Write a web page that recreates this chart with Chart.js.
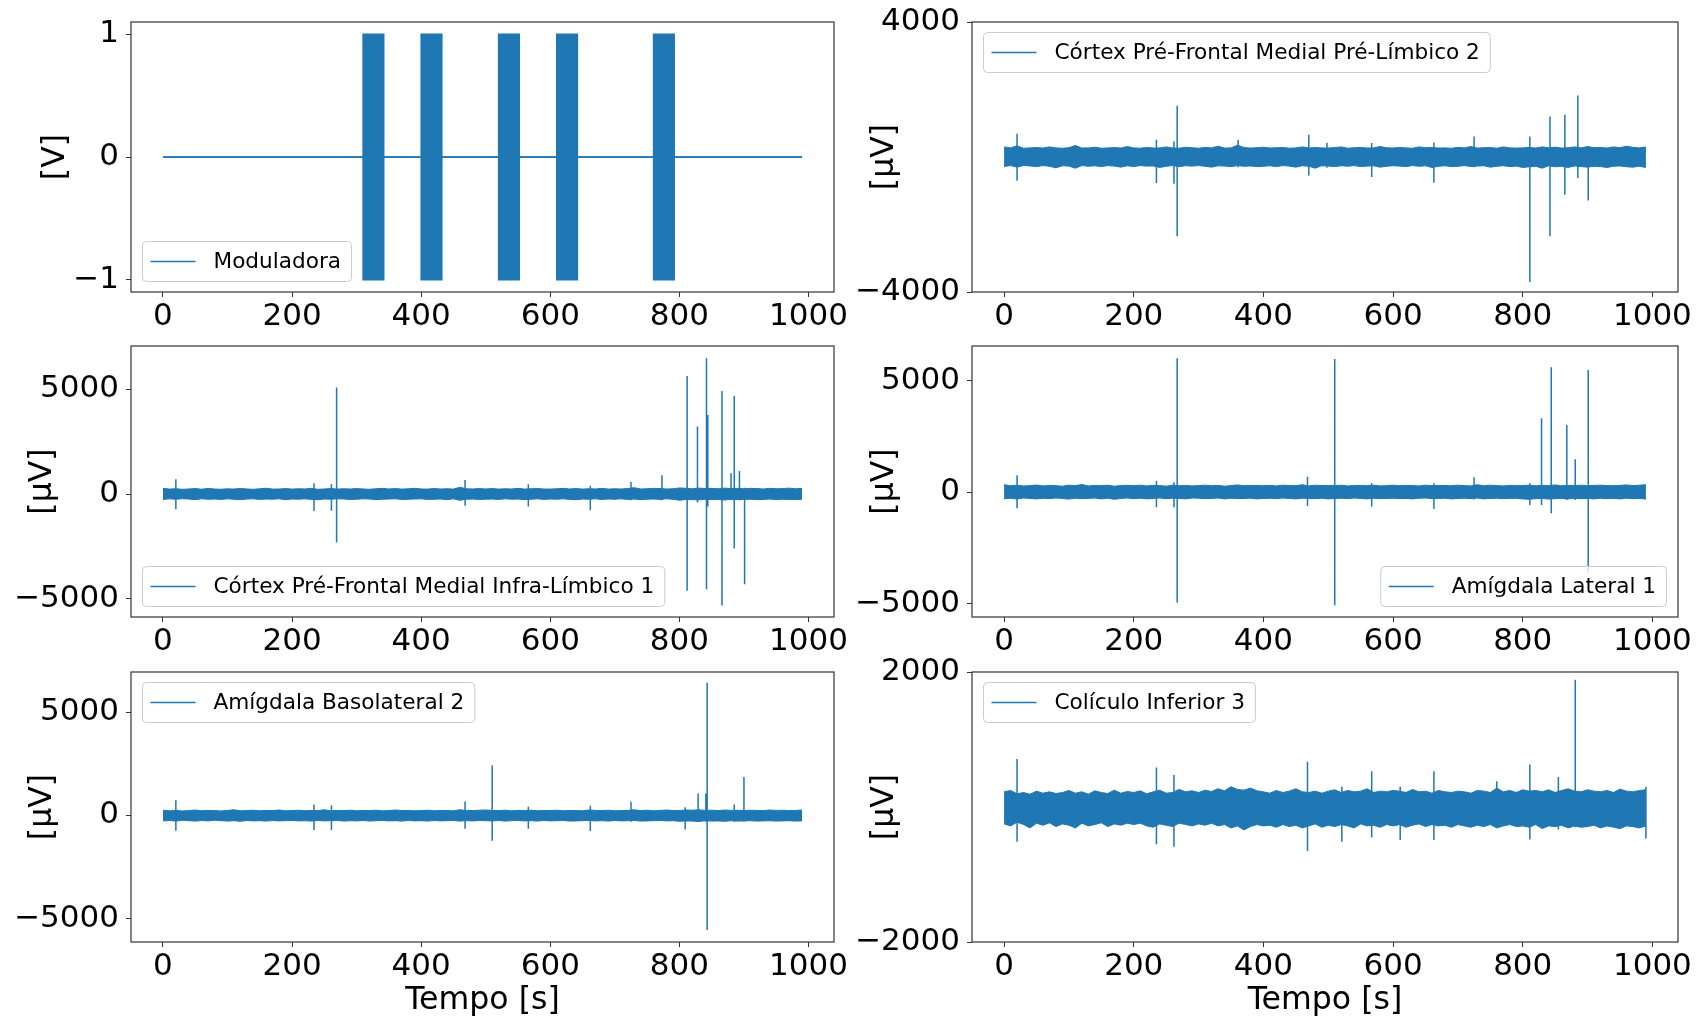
<!DOCTYPE html>
<html>
<head>
<meta charset="utf-8">
<title>Registos LFP</title>
<script src="https://cdn.jsdelivr.net/npm/chart.js@4.4.1/dist/chart.umd.min.js"></script>
<style>
  html, body { margin: 0; padding: 0; background: #ffffff; }
  #fig { position: relative; width: 1697px; height: 1021px; overflow: hidden; }
  #fig canvas { position: absolute; left: 0; top: 0; }
</style>
</head>
<body>
<div id="fig"></div>
<script>
// ---- time base (s) ----
const envelopeTimes = [
  0, 10, 20, 30, 40, 50, 60, 70, 80, 90,
  100, 110, 120, 130, 140, 150, 160, 170, 180, 190,
  200, 210, 220, 230, 240, 250, 260, 270, 280, 290,
  300, 310, 320, 330, 340, 350, 360, 370, 380, 390,
  400, 410, 420, 430, 440, 450, 460, 470, 480, 490,
  500, 510, 520, 530, 540, 550, 560, 570, 580, 590,
  600, 610, 620, 630, 640, 650, 660, 670, 680, 690,
  700, 710, 720, 730, 740, 750, 760, 770, 780, 790,
  800, 810, 820, 830, 840, 850, 860, 870, 880, 890,
  900, 910, 920, 930, 940, 950, 960, 970, 980, 990
];
const recordEnd = 990;
const xTicks = [0, 200, 400, 600, 800, 1000];

// ---- modulating signal (V): stimulation blocks ----
const modOnStart = [310, 400, 520, 610, 760];
const modOnEnd   = [342, 432, 552, 642, 792];
const modHigh = 1;
const modLow = -1;
const modTicks = [-1, 0, 1];

// ---- Córtex Pré-Frontal Medial Pré-Límbico 2 (µV): upper/lower envelope of the trace ----
const pl2Upper = [
  300, 270, 330, 260, 270, 280, 265, 300, 270, 260,
  275, 340, 265, 270, 290, 260, 270, 280, 265, 310,
  270, 260, 285, 265, 270, 300, 270, 260, 290, 275,
  260, 285, 270, 320, 265, 270, 350, 280, 265, 275,
  290, 265, 275, 280, 260, 270, 300, 265, 280, 270,
  265, 280, 300, 260, 275, 285, 265, 270, 310, 275,
  265, 285, 270, 260, 300, 275, 280, 265, 270, 260,
  285, 270, 310, 265, 275, 280, 260, 300, 270, 265,
  270, 285, 265, 300, 275, 290, 265, 275, 300, 270,
  310, 275, 285, 265, 300, 275, 320, 285, 270, 300
];
const pl2Lower = [
  -280, -255, -300, -250, -265, -285, -255, -275, -320, -260,
  -270, -330, -255, -275, -260, -285, -255, -270, -300, -260,
  -285, -255, -270, -265, -310, -275, -255, -285, -260, -270,
  -255, -275, -300, -260, -270, -285, -255, -275, -265, -285,
  -275, -260, -285, -255, -270, -300, -260, -275, -330, -260,
  -270, -285, -260, -275, -255, -285, -270, -260, -300, -275,
  -260, -270, -285, -255, -275, -260, -310, -275, -260, -285,
  -275, -255, -285, -270, -260, -300, -275, -260, -285, -270,
  -310, -290, -275, -330, -260, -290, -275, -310, -265, -285,
  -300, -275, -285, -310, -275, -265, -290, -300, -275, -310
];
// [time, peak, trough]
const pl2Spikes = [
  [20, 690, -700], [235, 510, -770], [262, 460, -790], [267, 1520, -2350],
  [361, 510, -300], [470, 660, -545], [498, 420, -320], [567, 415, -590],
  [663, 430, -760], [725, 610, -300], [811, 610, -3700], [842, 1200, -2350],
  [865, 1250, -1115], [885, 1820, -620], [901, 300, -1290]
];
const pl2Ticks = [-4000, 4000];

// ---- Córtex Pré-Frontal Medial Infra-Límbico 1 (µV) ----
const il1Upper = [
  270, 235, 250, 225, 240, 260, 230, 265, 240, 225,
  250, 235, 265, 240, 225, 250, 275, 235, 240, 260,
  235, 250, 240, 270, 225, 240, 260, 235, 250, 240,
  260, 240, 225, 250, 270, 240, 260, 235, 250, 270,
  240, 235, 260, 240, 250, 235, 320, 250, 240, 260,
  240, 260, 235, 250, 240, 270, 235, 250, 260, 240,
  235, 250, 270, 240, 260, 235, 250, 240, 270, 235,
  250, 240, 260, 300, 240, 250, 270, 260, 240, 250,
  290, 270, 250, 280, 260, 270, 250, 280, 260, 270,
  250, 270, 260, 240, 270, 250, 260, 280, 250, 270
];
const il1Lower = [
  -260, -230, -250, -225, -240, -270, -230, -250, -240, -260,
  -230, -250, -275, -240, -230, -260, -240, -250, -230, -270,
  -240, -250, -230, -260, -275, -240, -250, -230, -240, -260,
  -250, -230, -240, -270, -250, -240, -230, -260, -250, -240,
  -230, -260, -250, -240, -270, -230, -300, -250, -240, -260,
  -250, -240, -260, -230, -250, -240, -270, -250, -230, -260,
  -240, -250, -230, -260, -275, -240, -250, -230, -260, -240,
  -250, -230, -260, -240, -270, -250, -240, -260, -230, -250,
  -300, -260, -270, -280, -250, -270, -260, -290, -250, -270,
  -260, -250, -270, -260, -240, -270, -250, -260, -270, -250
];
const il1Spikes = [
  [20, 700, -730], [234, 510, -810], [261, 480, -800], [269, 5090, -2320],
  [468, 670, -560], [566, 460, -600], [662, 400, -780], [725, 570, -300],
  [773, 900, -300], [812, 5640, -4620], [828, 3220, -400], [842, 6480, -4550],
  [844, 3770, -600], [866, 4920, -5320], [880, 990, -300], [885, 4680, -2600],
  [893, 1100, -300], [901, 300, -4310]
];
const il1Ticks = [-5000, 0, 5000];

// ---- Amígdala Lateral 1 (µV) ----
const al1Upper = [
  340, 295, 320, 280, 300, 325, 285, 310, 295, 275,
  320, 300, 350, 285, 310, 295, 320, 275, 300, 315,
  295, 320, 285, 310, 300, 275, 320, 295, 310, 285,
  300, 320, 295, 310, 275, 300, 330, 295, 310, 300,
  295, 310, 285, 320, 300, 295, 340, 285, 320, 300,
  310, 295, 320, 285, 300, 310, 295, 320, 285, 300,
  320, 295, 310, 300, 285, 320, 295, 310, 300, 295,
  320, 300, 285, 340, 295, 320, 300, 285, 310, 295,
  300, 320, 295, 310, 300, 330, 295, 310, 300, 320,
  295, 310, 320, 300, 295, 310, 330, 300, 320, 340
];
const al1Lower = [
  -290, -265, -305, -255, -275, -295, -265, -285, -255, -275,
  -305, -265, -285, -275, -255, -295, -265, -315, -275, -255,
  -285, -265, -295, -275, -255, -285, -265, -275, -295, -255,
  -265, -285, -275, -255, -295, -265, -285, -275, -265, -295,
  -275, -265, -285, -255, -275, -295, -265, -275, -285, -265,
  -295, -275, -265, -285, -255, -275, -295, -265, -285, -275,
  -265, -285, -275, -295, -265, -255, -285, -275, -265, -295,
  -275, -265, -285, -255, -295, -275, -265, -285, -275, -265,
  -295, -315, -285, -275, -305, -285, -275, -295, -265, -285,
  -275, -295, -265, -285, -275, -295, -265, -285, -275, -305
];
const al1Spikes = [
  [20, 760, -715], [235, 520, -670], [262, 450, -670], [267, 6000, -4940],
  [468, 700, -610], [510, 5970, -5060], [567, 400, -640], [663, 400, -750],
  [725, 670, -320], [811, 400, -570], [829, 3310, -570], [844, 5600, -940],
  [868, 3010, -350], [881, 1480, -350], [901, 5480, -3600]
];
const al1Ticks = [-5000, 0, 5000];

// ---- Amígdala Basolateral 2 (µV) ----
const abl2Upper = [
  255, 225, 245, 215, 235, 265, 225, 245, 235, 215,
  245, 275, 225, 235, 255, 225, 245, 235, 265, 225,
  235, 255, 225, 245, 235, 275, 225, 245, 235, 255,
  225, 245, 235, 255, 225, 235, 265, 235, 245, 225,
  235, 255, 225, 245, 235, 225, 275, 245, 235, 255,
  265, 245, 235, 255, 225, 245, 235, 255, 225, 245,
  235, 255, 225, 245, 235, 225, 265, 245, 235, 255,
  225, 235, 245, 275, 235, 255, 225, 245, 265, 235,
  245, 265, 255, 275, 245, 255, 235, 265, 245, 255,
  235, 255, 245, 235, 265, 245, 255, 235, 245, 265
];
const abl2Lower = [
  -265, -245, -275, -235, -255, -275, -245, -265, -235, -255,
  -275, -255, -285, -245, -265, -255, -275, -245, -265, -255,
  -245, -265, -255, -275, -245, -265, -255, -245, -275, -255,
  -265, -245, -275, -255, -245, -265, -255, -275, -245, -265,
  -255, -275, -245, -265, -255, -245, -275, -255, -265, -245,
  -255, -265, -245, -275, -255, -245, -265, -255, -275, -245,
  -265, -255, -245, -275, -265, -255, -245, -265, -255, -275,
  -245, -265, -255, -245, -275, -265, -255, -245, -265, -255,
  -285, -265, -275, -295, -255, -275, -265, -285, -255, -275,
  -265, -255, -275, -265, -255, -275, -265, -255, -275, -265
];
const abl2Spikes = [
  [20, 740, -740], [234, 530, -700], [261, 500, -710], [468, 680, -650],
  [510, 2420, -1230], [566, 420, -650], [662, 470, -760], [725, 660, -300],
  [809, 400, -680], [829, 1070, -300], [841, 1070, -300], [843, 6430, -5560],
  [885, 530, -300], [900, 1870, -300]
];
const abl2Ticks = [-5000, 0, 5000];

// ---- Colículo Inferior 3 (µV) ----
const ci3Upper = [
  225, 245, 195, 215, 190, 235, 205, 225, 200, 215,
  245, 205, 225, 190, 240, 215, 200, 250, 205, 230,
  215, 240, 195, 225, 250, 205, 215, 260, 225, 240,
  215, 250, 230, 270, 240, 300, 260, 250, 280, 240,
  225, 205, 245, 215, 235, 270, 225, 215, 235, 205,
  235, 255, 215, 245, 225, 235, 270, 215, 235, 225,
  245, 235, 215, 260, 225, 235, 205, 245, 225, 215,
  235, 225, 205, 245, 235, 215, 280, 225, 245, 215,
  255, 235, 245, 225, 255, 215, 245, 270, 235, 225,
  255, 235, 225, 245, 215, 265, 235, 225, 245, 255
];
const ci3Lower = [
  -250, -280, -225, -260, -310, -240, -270, -235, -290, -250,
  -270, -310, -240, -280, -260, -235, -290, -250, -270, -240,
  -260, -240, -280, -300, -250, -270, -290, -240, -260, -280,
  -250, -270, -240, -280, -260, -310, -280, -340, -290, -260,
  -280, -270, -300, -260, -290, -270, -310, -280, -250, -300,
  -270, -290, -260, -280, -310, -250, -280, -270, -300, -260,
  -280, -260, -300, -270, -250, -290, -260, -280, -270, -300,
  -260, -280, -300, -270, -290, -260, -310, -280, -260, -290,
  -280, -300, -260, -320, -280, -290, -270, -310, -280, -300,
  -290, -270, -310, -280, -300, -320, -280, -290, -310, -280
];
const ci3Spikes = [
  [20, 710, -515], [235, 585, -550], [262, 475, -590], [468, 670, -650],
  [521, 300, -515], [567, 530, -450], [611, 300, -490], [663, 530, -490],
  [760, 380, -300], [811, 630, -480], [855, 445, -330], [881, 1885, -300],
  [990, 300, -465]
];
const ci3Ticks = [-2000, 2000];

// ---- drawing ----
const BLUE = '#1f77b4';
const PAGE_W = 1697, PAGE_H = 1021;
const Y_BOX = 120;              // width reserved for y tick labels + title
const TICK_FONT = 31, LABEL_FONT = 31.6, LEGEND_FONT = 21.6;

Chart.defaults.font.family = '"DejaVu Sans", sans-serif';
Chart.defaults.color = '#000000';

const fmt = v => (v < 0 ? '\u2212' + Math.abs(v) : String(v));

function signalDatasets(upper, lower, spikes) {
  const up = envelopeTimes.map((t, i) => ({ x: t, y: upper[i] }));
  const lo = envelopeTimes.map((t, i) => ({ x: t, y: lower[i] }));
  const sp = [];
  spikes.forEach(([t, peak, trough]) => {
    sp.push({ x: t, y: trough }, { x: t, y: peak }, { x: t, y: null });
  });
  const base = { borderColor: BLUE, pointRadius: 0, tension: 0 };
  return [
    { ...base, data: up, fill: '+1', backgroundColor: BLUE, borderWidth: 1 },
    { ...base, data: lo, fill: false, borderWidth: 1 },
    { ...base, data: sp, fill: false, borderWidth: 1.5, spanGaps: false }
  ];
}

function modulatorDatasets() {
  const top = [{ x: 0, y: 0 }], bottom = [{ x: 0, y: 0 }];
  modOnStart.forEach((s, i) => {
    const e = modOnEnd[i];
    top.push({ x: s, y: 0 }, { x: s, y: modHigh }, { x: e, y: modHigh }, { x: e, y: 0 });
    bottom.push({ x: s, y: 0 }, { x: s, y: modLow }, { x: e, y: modLow }, { x: e, y: 0 });
  });
  top.push({ x: recordEnd, y: 0 });
  bottom.push({ x: recordEnd, y: 0 });
  const base = { borderColor: BLUE, backgroundColor: BLUE, pointRadius: 0, borderWidth: 1.5, fill: 'origin' };
  return [{ ...base, data: top }, { ...base, data: bottom }];
}

// axes frame (all four spines)
const framePlugin = {
  id: 'frame',
  afterDatasetsDraw(chart) {
    const { ctx, chartArea: a } = chart;
    ctx.save();
    ctx.strokeStyle = '#333333';
    ctx.lineWidth = 1.2;
    ctx.strokeRect(a.left, a.top, a.right - a.left, a.bottom - a.top);
    ctx.restore();
  }
};

// framed legend box inside the axes
const boxLegend = {
  id: 'boxLegend',
  afterDatasetsDraw(chart, args, opts) {
    const { ctx, chartArea: a } = chart;
    ctx.save();
    ctx.font = `${LEGEND_FONT}px "DejaVu Sans"`;
    const tw = ctx.measureText(opts.label).width;
    const w = 71 + tw + 10.5, h = 40;
    const x = opts.loc.includes('right') ? a.right - 11.5 - w : a.left + 11.5;
    const y = opts.loc.includes('upper') ? a.top + 10.5 : a.bottom - 10.5 - h;
    ctx.beginPath();
    ctx.roundRect(x, y, w, h, 4);
    ctx.fillStyle = 'rgba(255,255,255,0.8)';
    ctx.fill();
    ctx.strokeStyle = '#cccccc';
    ctx.lineWidth = 1;
    ctx.stroke();
    ctx.beginPath();
    ctx.moveTo(x + 8, y + h / 2);
    ctx.lineTo(x + 53, y + h / 2);
    ctx.strokeStyle = BLUE;
    ctx.lineWidth = 1.5;
    ctx.stroke();
    ctx.fillStyle = '#000000';
    ctx.textBaseline = 'middle';
    ctx.textAlign = 'left';
    ctx.fillText(opts.label, x + 71, y + h / 2 + 1);
    ctx.restore();
  }
};

const zeroPad = s => { s.paddingLeft = 0; s.paddingRight = 0; s.paddingTop = 0; s.paddingBottom = 0; };

const panels = [
  { label: 'Moduladora', loc: 'lower left', yTitle: '[V]', datasets: modulatorDatasets(),
    yMin: -1.1, yMax: 1.1, yTicks: modTicks, area: [131, 22, 834, 292], yTitleX: 56, bottomRow: false },
  { label: 'Córtex Pré-Frontal Medial Pré-Límbico 2', loc: 'upper left', yTitle: '[μV]',
    datasets: signalDatasets(pl2Upper, pl2Lower, pl2Spikes),
    yMin: -4000, yMax: 4000, yTicks: pl2Ticks, area: [972, 22, 1678, 292], yTitleX: 885, bottomRow: false },
  { label: 'Córtex Pré-Frontal Medial Infra-Límbico 1', loc: 'lower left', yTitle: '[μV]',
    datasets: signalDatasets(il1Upper, il1Lower, il1Spikes),
    yMin: -5874, yMax: 7068, yTicks: il1Ticks, area: [131, 346, 834, 617], yTitleX: 43, bottomRow: false },
  { label: 'Amígdala Lateral 1', loc: 'lower right', yTitle: '[μV]',
    datasets: signalDatasets(al1Upper, al1Lower, al1Spikes),
    yMin: -5582, yMax: 6549, yTicks: al1Ticks, area: [972, 346, 1678, 617], yTitleX: 885, bottomRow: false },
  { label: 'Amígdala Basolateral 2', loc: 'upper left', yTitle: '[μV]',
    datasets: signalDatasets(abl2Upper, abl2Lower, abl2Spikes),
    yMin: -6138, yMax: 6957, yTicks: abl2Ticks, area: [131, 672, 834, 942], yTitleX: 43, bottomRow: true },
  { label: 'Colículo Inferior 3', loc: 'upper left', yTitle: '[μV]',
    datasets: signalDatasets(ci3Upper, ci3Lower, ci3Spikes),
    yMin: -2000, yMax: 2000, yTicks: ci3Ticks, area: [972, 672, 1678, 942], yTitleX: 885, bottomRow: true }
];

const fig = document.getElementById('fig');
panels.forEach(p => {
  const [L, T, R, B] = p.area;
  const xBox = p.bottomRow ? PAGE_H - B : 60;
  const canvas = document.createElement('canvas');
  canvas.width = PAGE_W;
  canvas.height = PAGE_H;
  fig.appendChild(canvas);
  const lh = LABEL_FONT * 1.2;
  const yTitlePad = p.yTitleX - (L - Y_BOX) - lh / 2;
  new Chart(canvas, {
    type: 'line',
    data: { datasets: p.datasets },
    options: {
      responsive: false,
      animation: false,
      devicePixelRatio: 1,
      events: [],
      layout: { padding: { left: L - Y_BOX, top: T, right: PAGE_W - R, bottom: PAGE_H - B - xBox } },
      plugins: {
        legend: { display: false },
        tooltip: { enabled: false },
        boxLegend: { label: p.label, loc: p.loc }
      },
      scales: {
        x: {
          type: 'linear',
          min: -49.5,
          max: 1039.5,
          afterBuildTicks: s => { s.ticks = xTicks.map(v => ({ value: v })); },
          afterFit: s => { s.height = xBox; zeroPad(s); },
          ticks: { autoSkip: false, maxRotation: 0, padding: 1, font: { size: TICK_FONT }, callback: v => fmt(v) },
          grid: { drawOnChartArea: false, drawTicks: true, tickLength: 5, color: '#333333' },
          border: { display: false },
          title: { display: p.bottomRow, text: 'Tempo [s]', font: { size: LABEL_FONT }, padding: { top: 0, bottom: 1 } }
        },
        y: {
          type: 'linear',
          min: p.yMin,
          max: p.yMax,
          afterBuildTicks: s => { s.ticks = p.yTicks.map(v => ({ value: v })); },
          afterFit: s => { s.width = Y_BOX; zeroPad(s); },
          ticks: { padding: 7, font: { size: TICK_FONT }, callback: v => fmt(v) },
          grid: { drawOnChartArea: false, drawTicks: true, tickLength: 5, color: '#333333' },
          border: { display: false },
          title: { display: true, text: p.yTitle, font: { size: LABEL_FONT }, padding: { top: yTitlePad, bottom: 0 } }
        }
      }
    },
    plugins: [framePlugin, boxLegend]
  });
});
</script>
</body>
</html>
